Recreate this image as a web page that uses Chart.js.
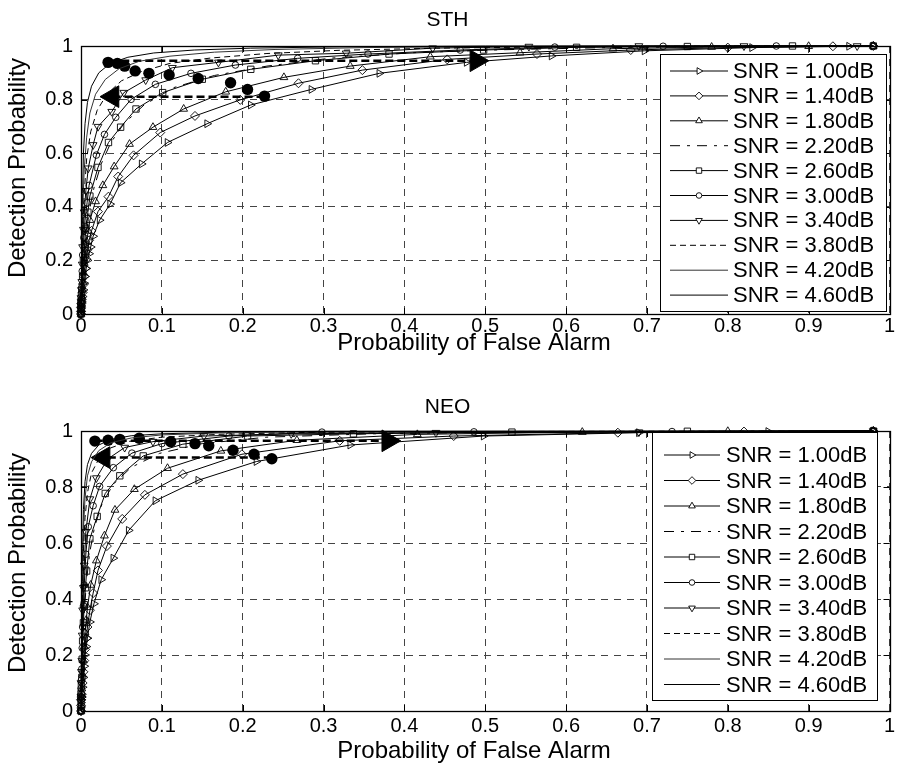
<!DOCTYPE html>
<html><head><meta charset="utf-8">
<script src="https://cdn.jsdelivr.net/npm/chart.js@4.4.1/dist/chart.umd.min.js"></script>
<style>
html,body{margin:0;padding:0;background:#fff;}
#c1{position:absolute;left:0;top:0;width:903px;height:385px;}
#c2{position:absolute;left:0;top:385px;width:903px;height:386px;}
</style></head><body>
<canvas id="c1" width="903" height="385"></canvas>
<canvas id="c2" width="903" height="386"></canvas>
<script>
// ---------- labels / ticks ----------
const snrLabels = ['SNR = 1.00dB','SNR = 1.40dB','SNR = 1.80dB','SNR = 2.20dB','SNR = 2.60dB',
                   'SNR = 3.00dB','SNR = 3.40dB','SNR = 3.80dB','SNR = 4.20dB','SNR = 4.60dB'];
const xTickVals = [0,0.1,0.2,0.3,0.4,0.5,0.6,0.7,0.8,0.9,1];
const xTickLabels = ['0','0.1','0.2','0.3','0.4','0.5','0.6','0.7','0.8','0.9','1'];
const yTickVals = [0,0.2,0.4,0.6,0.8,1];
const yTickLabels = ['0','0.2','0.4','0.6','0.8','1'];
const xAxisTitle = 'Probability of False Alarm';
const yAxisTitle = 'Detection Probability';

// ---------- STH curves [Pfa, Pd] ----------
const sth_100 = [[0,0],[0,0.01],[0,0.02],[0.0005,0.03],[0.001,0.045],[0.002,0.065],[0.003,0.09],[0.004,0.115],[0.005,0.14],[0.0065,0.17],[0.008,0.2],[0.01,0.225],[0.012,0.25],[0.015,0.29],[0.023,0.35],[0.036,0.41],[0.049,0.49],[0.075,0.56],[0.107,0.64],[0.156,0.71],[0.21,0.78],[0.285,0.838],[0.369,0.898],[0.477,0.939],[0.582,0.963],[0.697,0.982],[0.83,0.994],[0.95,0.999],[0.98,1]];
const sth_140 = [[0,0],[0,0.01],[0,0.025],[0.0005,0.04],[0.001,0.055],[0.002,0.08],[0.003,0.11],[0.004,0.14],[0.005,0.17],[0.0065,0.205],[0.008,0.24],[0.01,0.275],[0.013,0.31],[0.021,0.382],[0.034,0.438],[0.046,0.513],[0.065,0.592],[0.098,0.677],[0.141,0.739],[0.197,0.799],[0.269,0.861],[0.348,0.91],[0.453,0.95],[0.564,0.97],[0.68,0.985],[0.80,0.994],[0.93,0.999],[0.98,1]];
const sth_180 = [[0,0],[0,0.015],[0,0.03],[0.0005,0.045],[0.001,0.06],[0.0015,0.09],[0.002,0.12],[0.003,0.155],[0.004,0.19],[0.0055,0.23],[0.007,0.27],[0.009,0.31],[0.011,0.35],[0.018,0.42],[0.027,0.48],[0.041,0.55],[0.060,0.634],[0.089,0.697],[0.127,0.765],[0.179,0.829],[0.251,0.883],[0.333,0.925],[0.432,0.96],[0.543,0.975],[0.658,0.99],[0.78,0.996],[0.9,0.999],[0.98,1]];
const sth_220 = [[0,0],[0.001,0.08],[0.003,0.17],[0.006,0.28],[0.01,0.38],[0.016,0.47],[0.025,0.56],[0.037,0.64],[0.053,0.71],[0.078,0.78],[0.115,0.845],[0.165,0.89],[0.23,0.925],[0.31,0.955],[0.41,0.975],[0.52,0.986],[0.65,0.994],[0.8,0.998],[0.98,1]];
const sth_260 = [[0,0],[0,0.02],[0,0.04],[0.0005,0.06],[0.001,0.09],[0.002,0.14],[0.003,0.2],[0.0045,0.26],[0.006,0.32],[0.0085,0.38],[0.011,0.44],[0.021,0.547],[0.034,0.64],[0.049,0.697],[0.068,0.765],[0.101,0.826],[0.150,0.876],[0.21,0.913],[0.29,0.945],[0.381,0.97],[0.498,0.985],[0.613,0.995],[0.75,0.998],[0.88,1],[0.98,1]];
const sth_300 = [[0,0],[0,0.02],[0,0.05],[0.0005,0.075],[0.001,0.1],[0.0015,0.16],[0.002,0.22],[0.0035,0.285],[0.005,0.35],[0.0075,0.415],[0.01,0.48],[0.019,0.593],[0.029,0.67],[0.043,0.734],[0.062,0.801],[0.092,0.857],[0.136,0.898],[0.191,0.929],[0.268,0.954],[0.355,0.97],[0.469,0.985],[0.586,0.996],[0.72,0.999],[0.86,1],[0.98,1]];
const sth_340 = [[0,0],[0,0.03],[0,0.06],[0.0005,0.09],[0.001,0.12],[0.0015,0.185],[0.002,0.25],[0.003,0.315],[0.004,0.38],[0.006,0.46],[0.009,0.544],[0.015,0.631],[0.021,0.699],[0.038,0.755],[0.053,0.826],[0.08,0.873],[0.113,0.919],[0.17,0.939],[0.244,0.966],[0.328,0.973],[0.435,0.992],[0.554,0.998],[0.69,1],[0.82,1],[0.96,1]];
const sth_380 = [[0,0],[0.001,0.15],[0.002,0.3],[0.004,0.45],[0.007,0.58],[0.012,0.68],[0.02,0.76],[0.032,0.82],[0.05,0.87],[0.075,0.905],[0.11,0.935],[0.16,0.955],[0.23,0.972],[0.32,0.984],[0.44,0.992],[0.6,0.997],[0.8,1],[0.98,1]];
const sth_420 = [[0,0],[0.001,0.2],[0.002,0.38],[0.004,0.54],[0.007,0.66],[0.011,0.75],[0.018,0.82],[0.03,0.875],[0.047,0.915],[0.072,0.943],[0.11,0.962],[0.165,0.977],[0.24,0.987],[0.35,0.994],[0.5,0.998],[0.7,1],[0.98,1]];
const sth_460 = [[0,0],[0.001,0.25],[0.002,0.45],[0.003,0.6],[0.005,0.71],[0.008,0.79],[0.013,0.85],[0.022,0.9],[0.036,0.935],[0.058,0.958],[0.09,0.974],[0.14,0.985],[0.21,0.992],[0.32,0.997],[0.5,1],[0.98,1]];
const sth_dots = [[0.0335,0.939],[0.045,0.935],[0.054,0.925],[0.067,0.907],[0.084,0.898],[0.109,0.892],[0.145,0.879],[0.185,0.863],[0.206,0.838],[0.227,0.813]];
const sth_arrowUp = [[0.035,0.945],[0.489,0.945]];
const sth_arrowLow = [[0.227,0.811],[0.039,0.811]];

// ---------- NEO curves [Pfa, Pd] ----------
const neo_100 = [[0,0],[0,0.015],[0,0.03],[0.0005,0.04],[0.001,0.05],[0.002,0.085],[0.003,0.12],[0.004,0.16],[0.005,0.2],[0.0065,0.23],[0.008,0.26],[0.011,0.318],[0.016,0.383],[0.025,0.469],[0.040,0.546],[0.059,0.645],[0.092,0.751],[0.145,0.824],[0.217,0.891],[0.333,0.95],[0.498,0.982],[0.69,0.994],[0.85,0.998],[0.98,1]];
const neo_140 = [[0,0],[0,0.02],[0,0.04],[0.0005,0.05],[0.001,0.06],[0.002,0.1],[0.003,0.14],[0.004,0.18],[0.005,0.22],[0.0065,0.26],[0.008,0.3],[0.011,0.36],[0.015,0.421],[0.021,0.502],[0.032,0.589],[0.051,0.686],[0.079,0.772],[0.126,0.846],[0.199,0.917],[0.32,0.965],[0.461,0.982],[0.664,0.994],[0.82,0.998],[0.98,1]];
const neo_180 = [[0,0],[0,0.02],[0,0.05],[0.0005,0.065],[0.001,0.08],[0.002,0.13],[0.003,0.18],[0.004,0.23],[0.005,0.28],[0.0065,0.325],[0.008,0.37],[0.012,0.45],[0.019,0.537],[0.029,0.626],[0.042,0.718],[0.066,0.792],[0.107,0.867],[0.173,0.929],[0.267,0.967],[0.416,0.988],[0.62,0.996],[0.8,0.999],[0.98,1]];
const neo_220 = [[0,0],[0.001,0.1],[0.002,0.22],[0.004,0.35],[0.007,0.47],[0.011,0.57],[0.017,0.66],[0.026,0.74],[0.04,0.81],[0.062,0.87],[0.097,0.92],[0.15,0.955],[0.23,0.978],[0.36,0.99],[0.55,0.997],[0.98,1]];
const neo_260 = [[0,0],[0,0.03],[0,0.06],[0.0005,0.09],[0.001,0.12],[0.0015,0.185],[0.002,0.25],[0.003,0.315],[0.004,0.38],[0.0055,0.44],[0.007,0.5],[0.011,0.615],[0.020,0.695],[0.030,0.777],[0.048,0.84],[0.077,0.911],[0.126,0.953],[0.206,0.982],[0.337,0.99],[0.533,0.996],[0.75,0.999],[0.98,1]];
const neo_300 = [[0,0],[0,0.04],[0,0.08],[0.0005,0.11],[0.001,0.15],[0.0015,0.225],[0.002,0.3],[0.003,0.375],[0.004,0.45],[0.006,0.56],[0.009,0.658],[0.015,0.733],[0.023,0.802],[0.040,0.869],[0.063,0.921],[0.10,0.955],[0.183,0.982],[0.298,0.996],[0.486,0.997],[0.731,0.998],[0.98,1]];
const neo_340 = [[0,0],[0,0.05],[0,0.1],[0.0005,0.14],[0.001,0.18],[0.0015,0.27],[0.002,0.36],[0.003,0.44],[0.004,0.52],[0.006,0.64],[0.011,0.757],[0.019,0.832],[0.033,0.9],[0.054,0.941],[0.089,0.962],[0.152,0.982],[0.26,0.99],[0.439,0.994],[0.69,0.996],[0.98,1]];
const neo_380 = [[0,0],[0.001,0.22],[0.002,0.42],[0.003,0.57],[0.005,0.69],[0.008,0.78],[0.013,0.85],[0.022,0.9],[0.037,0.94],[0.06,0.963],[0.1,0.978],[0.17,0.988],[0.28,0.995],[0.45,0.998],[0.98,1]];
const neo_420 = [[0,0],[0.001,0.28],[0.002,0.5],[0.003,0.65],[0.005,0.76],[0.008,0.84],[0.013,0.89],[0.022,0.93],[0.037,0.958],[0.062,0.975],[0.1,0.986],[0.17,0.993],[0.3,0.998],[0.98,1]];
const neo_460 = [[0,0],[0.001,0.35],[0.002,0.58],[0.003,0.72],[0.005,0.82],[0.008,0.88],[0.013,0.92],[0.022,0.95],[0.037,0.97],[0.062,0.983],[0.1,0.99],[0.18,0.996],[0.3,0.999],[0.98,1]];
const neo_dots = [[0.0172,0.964],[0.0335,0.967],[0.048,0.97],[0.072,0.974],[0.111,0.962],[0.141,0.955],[0.158,0.947],[0.188,0.931],[0.214,0.917],[0.236,0.901]];
const neo_arrowUp = [[0.017,0.965],[0.38,0.965]];
const neo_arrowLow = [[0.236,0.905],[0.028,0.905]];

// ---------- styles ----------
const seriesStyles = [
  {ps:'triangle', rot:90, r:4.5, dash:[]},
  {ps:'rectRot', rot:0, r:4.5, dash:[]},
  {ps:'triangle', rot:0, r:4.5, dash:[]},
  {ps:null, rot:0, r:0, dash:[10,7,3,7]},
  {ps:'rect', rot:0, r:4.5, dash:[]},
  {ps:'circle', rot:0, r:3.3, dash:[]},
  {ps:'triangle', rot:180, r:4.5, dash:[]},
  {ps:null, rot:0, r:0, dash:[6,4]},
  {ps:null, rot:0, r:0, dash:[], color:'#333'},
  {ps:null, rot:0, r:0, dash:[]}
];

const FONT = "'Liberation Sans', Arial, Helvetica, sans-serif";
Chart.defaults.font.family = FONT;
Chart.defaults.color = '#000';

const toXY = arr => arr.map(p => ({x:p[0], y:p[1]}));

function buildDatasets(series, dots, arrowUp, arrowLow) {
  const ds = series.map((pts, i) => {
    const st = seriesStyles[i];
    return {
      label: snrLabels[i], data: toXY(pts), showLine: true, fill: false, tension: 0,
      borderColor: st.color || '#000', borderWidth: 1, borderDash: st.dash,
      pointStyle: st.ps || 'circle', rotation: st.rot, pointRadius: st.ps ? st.r : 0,
      pointBorderWidth: 0.9, pointBorderColor: '#000', pointBackgroundColor: 'rgba(0,0,0,0)',
      clip: 14, _legend: true
    };
  });
  const lineStyle = {showLine:true, fill:false, borderColor:'#000', borderWidth:2.5, borderDash:[8,4], pointRadius:0, clip:14};
  ds.push(Object.assign({label:'arrowUpLine', data: toXY(arrowUp)}, lineStyle));
  ds.push(Object.assign({label:'arrowLowLine', data: toXY(arrowLow)}, lineStyle));
  ds.push({label:'headR', data: toXY([arrowUp[arrowUp.length-1]]), showLine:false, pointStyle:'triangle', rotation:90,
           pointRadius:12.5, pointBackgroundColor:'#000', pointBorderColor:'#000', pointBorderWidth:1, clip:14});
  ds.push({label:'headL', data: toXY([arrowLow[arrowLow.length-1]]), showLine:false, pointStyle:'triangle', rotation:-90,
           pointRadius:12.5, pointBackgroundColor:'#000', pointBorderColor:'#000', pointBorderWidth:1, clip:14});
  ds.push({label:'dots', data: toXY(dots), showLine:false, pointStyle:'circle', pointRadius:5.7,
           pointBackgroundColor:'#000', pointBorderColor:'#000', pointBorderWidth:0, clip:14});
  return ds;
}

// Axes box, inward ticks, axis titles and MATLAB-like legend
const matlabPlugin = {
  id: 'matlab',
  afterDatasetsDraw(chart, args, opts) {
    const ctx = chart.ctx, a = chart.chartArea;
    const xs = chart.scales.x, ys = chart.scales.y;
    ctx.save();
    ctx.strokeStyle = '#000'; ctx.lineWidth = 1; ctx.setLineDash([]);
    ctx.beginPath();
    xTickVals.forEach(v => {
      const px = Math.round(xs.getPixelForValue(v)) + 0.5;
      ctx.moveTo(px, a.bottom); ctx.lineTo(px, a.bottom - 6);
      ctx.moveTo(px, a.top); ctx.lineTo(px, a.top + 6);
    });
    yTickVals.forEach(v => {
      const py = Math.round(ys.getPixelForValue(v)) + 0.5;
      ctx.moveTo(a.left, py); ctx.lineTo(a.left + 6, py);
      ctx.moveTo(a.right, py); ctx.lineTo(a.right - 6, py);
    });
    ctx.stroke();
    ctx.lineWidth = 1.3;
    ctx.strokeRect(Math.round(a.left)+0.5, Math.round(a.top)+0.5, Math.round(a.right-a.left), Math.round(a.bottom-a.top));

    // axis titles
    ctx.fillStyle = '#000';
    ctx.font = '24px ' + FONT;
    ctx.textAlign = 'center'; ctx.textBaseline = 'middle';
    ctx.fillText(xAxisTitle, opts.xTitle[0], opts.xTitle[1]);
    ctx.save();
    ctx.translate(opts.yTitle[0], opts.yTitle[1]);
    ctx.rotate(-Math.PI / 2);
    ctx.fillText(yAxisTitle, 0, 0);
    ctx.restore();

    // legend
    const b = opts.box;
    ctx.fillStyle = '#fff';
    ctx.fillRect(b[0], b[1], b[2]-b[0], b[3]-b[1]);
    ctx.lineWidth = 1; ctx.strokeStyle = '#000';
    ctx.strokeRect(b[0]+0.5, b[1]+0.5, b[2]-b[0], b[3]-b[1]);
    ctx.font = opts.fontSize + 'px ' + FONT;
    ctx.textBaseline = 'middle'; ctx.textAlign = 'left';
    chart.data.datasets.filter(d => d._legend).forEach((d, i) => {
      const y = opts.row0 + i * opts.dy;
      ctx.save();
      ctx.strokeStyle = d.borderColor; ctx.lineWidth = d.borderWidth;
      ctx.setLineDash(d.borderDash || []);
      ctx.beginPath(); ctx.moveTo(opts.line[0], y); ctx.lineTo(opts.line[1], y); ctx.stroke();
      ctx.setLineDash([]);
      if (d.pointRadius > 0) {
        ctx.strokeStyle = '#000'; ctx.fillStyle = '#fff'; ctx.lineWidth = d.pointBorderWidth;
        Chart.helpers.drawPoint(ctx, {pointStyle: d.pointStyle, rotation: d.rotation, radius: d.pointRadius * 0.85, borderWidth: d.pointBorderWidth}, opts.marker, y);
      }
      ctx.restore();
      ctx.fillStyle = '#000';
      ctx.fillText(d.label, opts.text, y + 1);
    });
    ctx.restore();
  }
};

function makeScales(xHeight, tickPad) {
  return {
    x: {
      type: 'linear', min: 0, max: 1,
      afterBuildTicks: s => { s.ticks = xTickVals.map(v => ({value: v})); },
      afterFit: s => { s.height = xHeight; },
      ticks: {callback: v => xTickLabels[xTickVals.indexOf(v)], font: {size: 20}, color: '#000', padding: tickPad, maxRotation: 0, autoSkip: false},
      grid: {color: '#444', lineWidth: 1, drawTicks: false},
      border: {display: false, dash: [7, 6]}
    },
    y: {
      type: 'linear', min: 0, max: 1,
      afterBuildTicks: s => { s.ticks = yTickVals.map(v => ({value: v})); },
      afterFit: s => { s.width = 81; },
      ticks: {callback: v => yTickLabels[yTickVals.indexOf(v)], font: {size: 20}, color: '#000', padding: 8, autoSkip: false},
      grid: {color: '#444', lineWidth: 1, drawTicks: false},
      border: {display: false, dash: [7, 6]}
    }
  };
}

new Chart(document.getElementById('c1'), {
  type: 'scatter',
  data: {datasets: buildDatasets([sth_100,sth_140,sth_180,sth_220,sth_260,sth_300,sth_340,sth_380,sth_420,sth_460], sth_dots, sth_arrowUp, sth_arrowLow)},
  options: {
    responsive: false, animation: false, events: [],
    layout: {padding: {left: 0, right: 8, top: 0, bottom: 0}},
    scales: makeScales(71, 0),
    plugins: {
      legend: {display: false}, tooltip: {enabled: false},
      title: {display: true, text: 'STH', font: {size: 21, weight: 'normal'}, color: '#000', padding: {top: 7.4, bottom: 13.4}},
      matlab: {box: [660, 54, 886, 311], row0: 71, dy: 24.9, line: [670, 728], marker: 699, text: 733, fontSize: 22,
               xTitle: [474, 343], yTitle: [18, 168]}
    }
  },
  plugins: [matlabPlugin]
});

new Chart(document.getElementById('c2'), {
  type: 'scatter',
  data: {datasets: buildDatasets([neo_100,neo_140,neo_180,neo_220,neo_260,neo_300,neo_340,neo_380,neo_420,neo_460], neo_dots, neo_arrowUp, neo_arrowLow)},
  options: {
    responsive: false, animation: false, events: [],
    layout: {padding: {left: 0, right: 8, top: 0, bottom: 0}},
    scales: makeScales(60, 3),
    plugins: {
      legend: {display: false}, tooltip: {enabled: false},
      title: {display: true, text: 'NEO', font: {size: 21, weight: 'normal'}, color: '#000', padding: {top: 9.4, bottom: 11.4}},
      matlab: {box: [652, 47, 877, 315], row0: 70, dy: 25.5, line: [664, 720], marker: 692, text: 726, fontSize: 22,
               xTitle: [474, 366], yTitle: [18, 178]}
    }
  },
  plugins: [matlabPlugin]
});
</script>
</body></html>
